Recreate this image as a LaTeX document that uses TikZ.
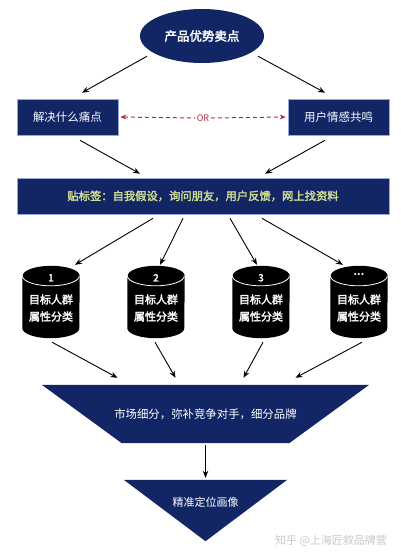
\documentclass[tikz,border=0pt]{standalone}
\usepackage{fontspec}
\setmainfont{Noto Sans CJK SC}
\newfontfamily\cjkbold[FakeBold=2.5]{Noto Sans CJK SC}
\usetikzlibrary{arrows.meta,shapes.geometric}
\definecolor{navy}{RGB}{18,38,102}
\definecolor{orred}{RGB}{170,50,70}
\definecolor{bannertext}{RGB}{205,218,145}
\definecolor{bannerborder}{RGB}{150,170,215}
\definecolor{wm}{RGB}{200,200,200}
\tikzset{
  arr/.style={draw=black,line width=0.9pt,-{Stealth[length=7pt,width=5.5pt]}},
  navybox/.style={rectangle,fill=navy,draw=bannerborder,line width=0.6pt,inner sep=0pt,text=white,font=\fontsize{11.5}{13}\selectfont},
  cylbox/.style={rectangle,inner sep=0pt,minimum width=57pt,minimum height=72pt},
  cyltext/.style={text=white,font=\cjkbold\fontsize{11}{17}\selectfont,align=center,inner sep=0pt},
  cylnum/.style={text=white,font=\cjkbold\fontsize{10}{11}\selectfont,inner sep=0pt},
}
\newcommand{\drawcyl}[1]{%
  \fill[black] ([yshift=-10pt]#1.north west) -- ([yshift=10pt]#1.south west)
     arc[start angle=180,end angle=360,x radius=28.5pt,y radius=10pt]
     -- ([yshift=-10pt]#1.north east)
     arc[start angle=0,end angle=180,x radius=28.5pt,y radius=10pt] -- cycle;
  \draw[white,line width=0.8pt] ([yshift=-10pt]#1.north west)
     arc[start angle=180,end angle=360,x radius=28.5pt,y radius=10pt];
  \node[cyltext] at ([yshift=-6pt]#1.center) {目标人群\\属性分类};
}
\begin{document}
\begin{tikzpicture}[x=1pt,y=-1pt]
\useasboundingbox (0,0) rectangle (400,558);
\fill[white] (0,0) rectangle (400,558);
% top ellipse
\node[ellipse,fill=navy,minimum width=124pt,minimum height=54pt,inner sep=0pt,text=white,font=\cjkbold\fontsize{12.5}{14}\selectfont] (top) at (202,36) {产品优势卖点};
% two boxes
\node[navybox,minimum width=101pt,minimum height=36pt] (left) at (67.5,117) {解决什么痛点};
\node[navybox,minimum width=101pt,minimum height=36pt] (right) at (338.5,117) {用户情感共鸣};
% banner
\node[navybox,minimum width=372pt,minimum height=36pt,text=bannertext,font=\cjkbold\fontsize{11.3}{13}\selectfont] (banner) at (203,196) {贴标签：自我假设，询问朋友，用户反馈，网上找资料};
% OR connector
\node[text=orred,fill=white,inner sep=1.5pt,font=\fontsize{9}{10}\selectfont] (or) at (203,118) {OR};
\draw[orred,line width=1pt,dash pattern=on 4pt off 3pt,{Stealth[length=6pt,width=5pt]}-] ([xshift=2pt]left.east) -- (or.west);
\draw[orred,line width=1pt,dash pattern=on 4pt off 3pt,-{Stealth[length=6pt,width=5pt]}] (or.east) -- ([xshift=-2pt]right.west);
% arrows top
\draw[arr] ([xshift=-55pt,yshift=7pt]top.south) -- ([xshift=14.5pt,yshift=6pt]left.north);
\draw[arr] ([xshift=56pt,yshift=7pt]top.south) -- ([xshift=-13.5pt,yshift=6pt]right.north);
\draw[arr] ([xshift=12.5pt,yshift=-5pt]left.south) -- ([xshift=-63pt,yshift=4pt]banner.north);
\draw[arr] ([xshift=-13.5pt,yshift=-5pt]right.south) -- ([xshift=62pt,yshift=4pt]banner.north);
% cylinders
\node[cylbox] (c1) at (51,302) {};
\node[cylbox] (c2) at (156,302) {};
\node[cylbox] (c3) at (261,302) {};
\node[cylbox] (c4) at (359,302) {};
\drawcyl{c1}\drawcyl{c2}\drawcyl{c3}\drawcyl{c4}
\node[cylnum] (n1) at ([yshift=-12pt]c1.north) {1};
\node[cylnum] (n2) at ([yshift=-12pt]c2.north) {2};
\node[cylnum] (n3) at ([yshift=-12pt]c3.north) {3};
\node[cylnum,font=\bfseries\fontsize{10}{11}\selectfont] (n4) at ([yshift=-9pt]c4.north) {...};
\draw[arr] ([xshift=-50pt,yshift=-4pt]banner.south) -- ([xshift=24pt,yshift=1pt]c1.north);
\draw[arr] ([xshift=-20pt,yshift=-4pt]banner.south) -- ([xshift=4pt,yshift=1pt]c2.north);
\draw[arr] ([xshift=27pt,yshift=-4pt]banner.south) -- ([xshift=-4pt,yshift=1pt]c3.north);
\draw[arr] ([xshift=59pt,yshift=-4pt]banner.south) -- ([xshift=-16pt,yshift=1pt]c4.north);
% trapezoid
\node[rectangle,minimum width=327pt,minimum height=58pt,inner sep=0pt] (seg) at (205.5,414) {};
\fill[navy] (seg.north west) -- (seg.north east) -- ([xshift=-80pt]seg.south east) -- ([xshift=80pt]seg.south west) -- cycle;
\node[text=white,inner sep=0pt,font=\fontsize{11.4}{13}\selectfont] (seglabel) at (seg.center) {市场细分，弥补竞争对手，细分品牌};
\draw[arr] ([xshift=1pt,yshift=-4pt]c1.south) -- ([xshift=-88pt,yshift=7pt]seg.north);
\draw[arr] ([xshift=-1pt,yshift=-4pt]c2.south) -- ([xshift=-30pt,yshift=7pt]seg.north);
\draw[arr] ([xshift=2pt,yshift=-4pt]c3.south) -- ([xshift=38pt,yshift=7pt]seg.north);
\draw[arr] ([xshift=3pt,yshift=-4pt]c4.south) -- ([xshift=90pt,yshift=7pt]seg.north);
% triangle
\node[rectangle,minimum width=163pt,minimum height=61pt,inner sep=0pt] (tri) at (205.5,510.5) {};
\fill[navy] (tri.north west) -- (tri.north east) -- (tri.south) -- cycle;
\node[text=white,inner sep=0pt,font=\fontsize{11}{13}\selectfont] (trilabel) at (205.5,502) {精准定位画像};
\draw[arr] ([yshift=-2pt]seg.south) -- ([yshift=2pt]tri.north);
% watermark
\node[text=wm,inner sep=0pt,font=\fontsize{11}{13}\selectfont] (wmark) at (331,541) {知乎 @上海匠叙品牌营};
\end{tikzpicture}
\end{document}
